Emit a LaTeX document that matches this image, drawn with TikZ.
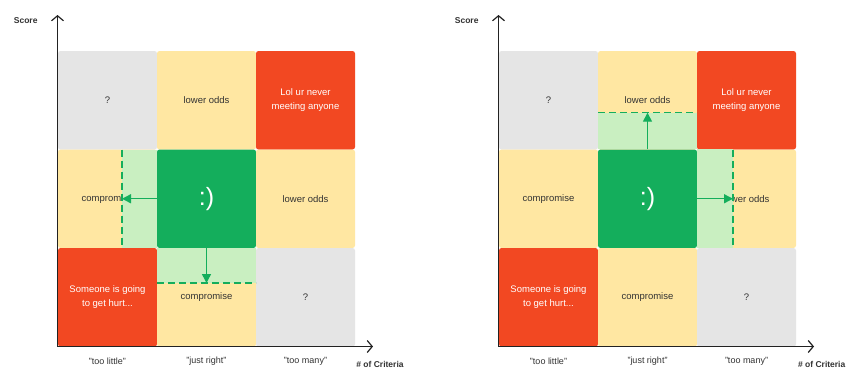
\documentclass[tikz,border=0pt]{standalone}
\usepackage{fontspec}
\setmainfont{Liberation Sans}
\usetikzlibrary{arrows.meta}
\definecolor{cgray}{HTML}{E5E5E5}
\definecolor{cyellow}{HTML}{FFE7A2}
\definecolor{cred}{HTML}{F24822}
\definecolor{cgreen}{HTML}{14AE5C}
\definecolor{clight}{HTML}{C9EFC1}
\definecolor{ctext}{HTML}{333333}
\definecolor{caxis}{HTML}{222222}
\tikzset{
  cell/.style={minimum width=99pt, minimum height=98.5pt, inner sep=0pt, rounded corners=2.5pt, text=ctext, font=\fontsize{9.5}{13.7}\selectfont, align=center},
  graycell/.style={cell, fill=cgray},
  yellowcell/.style={cell, fill=cyellow},
  redcell/.style={cell, fill=cred, text=white},
  greencell/.style={cell, fill=cgreen, text=white, font=\fontsize{25}{27}\selectfont},
  lightzone/.style={fill=clight},
  dashline/.style={draw=cgreen, line width=1.3pt, dash pattern=on 7pt off 4pt},
  movearrow/.style={draw=cgreen, line width=1.4pt, -{Triangle[length=9pt,width=9pt]}},
  axisline/.style={draw=caxis, line width=1.1pt, -{Straight Barb[length=5pt,width=12pt,line width=1.2pt]}},
  axlabel/.style={font=\bfseries\fontsize{8.5}{10}\selectfont, text=ctext},
  collabel/.style={font=\fontsize{9}{10}\selectfont, text=ctext}
}
\begin{document}
\begin{tikzpicture}[x=1pt, y=-1pt]
\fill[white] (0,0) rectangle (857,381);
\useasboundingbox (0,0) rectangle (857,381);

% ---------------- left panel ----------------
\node[graycell]   (L11) at (107.5,100.25) {?};
\node[yellowcell] (L12) at (206.5,100.25) {lower odds};
\node[redcell]    (L13) at (305.5,100.25) {Lol ur never\\meeting anyone};
\node[yellowcell] (L21) at (107.5,198.75) {compromise};
\node[greencell]  (L22) at (206.5,198.75) {:)};
\node[yellowcell] (L23) at (305.5,198.75) {lower odds};
\node[redcell]    (L31) at (107.5,297.25) {Someone is going\\to get hurt...};
\node[yellowcell] (L32) at (206.5,297.25) {compromise};
\node[graycell]   (L33) at (305.5,297.25) {?};

\fill[lightzone] (122,149.5) rectangle (L22.south west);
\fill[lightzone] (L22.south west) rectangle (256,283);
\coordinate (LdA) at (122,149.5);
\coordinate (LdB) at (122,248);
\coordinate (LdC) at (157,283);
\coordinate (LdD) at (256,283);
\draw[dashline] (LdA) -- (LdB);
\draw[dashline] (LdC) -- (LdD);
\coordinate (LaW) at (122,198.75);
\coordinate (LaS) at (206.5,283);
\draw[movearrow] (L22.west) -- (LaW);
\draw[movearrow] (L22.south) -- (LaS);

\coordinate (Lo) at (57.5,346.5);
\coordinate (Ly) at (57.5,15);
\coordinate (Lx) at (373,346.5);
\draw[axisline] (Lo) -- (Ly);
\draw[axisline] (Lo) -- (Lx);
\node[axlabel] (LyL) at (25.7,20.7) {Score};
\node[axlabel] (LxL) at (380,364.3) {\# of Criteria};
\node[collabel] (Lc1) at (107.5,361) {"too little"};
\node[collabel] (Lc2) at (206.5,361) {"just right"};
\node[collabel] (Lc3) at (305.5,361) {"too many"};

% ---------------- right panel ----------------
\node[graycell]   (R11) at (548.5,100.25) {?};
\node[yellowcell] (R12) at (647.5,100.25) {lower odds};
\node[redcell]    (R13) at (746.5,100.25) {Lol ur never\\meeting anyone};
\node[yellowcell] (R21) at (548.5,198.75) {compromise};
\node[greencell]  (R22) at (647.5,198.75) {:)};
\node[yellowcell] (R23) at (746.5,198.75) {lower odds};
\node[redcell]    (R31) at (548.5,297.25) {Someone is going\\to get hurt...};
\node[yellowcell] (R32) at (647.5,297.25) {compromise};
\node[graycell]   (R33) at (746.5,297.25) {?};

\fill[lightzone] (598,112.7) rectangle (R22.north east);
\fill[lightzone] (R22.north east) rectangle (733,248);
\coordinate (RdA) at (598,112.7);
\coordinate (RdB) at (697,112.7);
\coordinate (RdC) at (733,149.5);
\coordinate (RdD) at (733,248);
\draw[dashline] (RdA) -- (RdB);
\draw[dashline] (RdC) -- (RdD);
\coordinate (RaN) at (647.5,112.7);
\coordinate (RaE) at (733,198.75);
\draw[movearrow] (R22.north) -- (RaN);
\draw[movearrow] (R22.east) -- (RaE);

\coordinate (Ro) at (498.5,346.5);
\coordinate (Ry) at (498.5,15);
\coordinate (Rx) at (814,346.5);
\draw[axisline] (Ro) -- (Ry);
\draw[axisline] (Ro) -- (Rx);
\node[axlabel] (RyL) at (466.7,20.7) {Score};
\node[axlabel] (RxL) at (821.7,364.3) {\# of Criteria};
\node[collabel] (Rc1) at (548.5,361) {"too little"};
\node[collabel] (Rc2) at (647.5,361) {"just right"};
\node[collabel] (Rc3) at (746.5,361) {"too many"};
\end{tikzpicture}
\end{document}
